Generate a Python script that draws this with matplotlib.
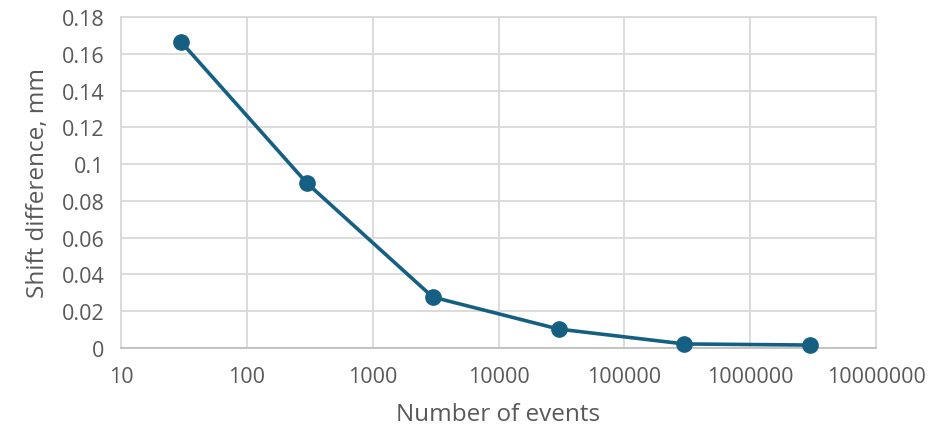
import matplotlib
matplotlib.use("Agg")
import matplotlib.pyplot as plt
from matplotlib.ticker import FixedLocator, FixedFormatter

# data
events = [30, 300, 3000, 30000, 300000, 3000000]
shift_mm = [0.1665, 0.0897, 0.0277, 0.0103, 0.0022, 0.0016]

x_ticks = [10, 100, 1000, 10000, 100000, 1000000, 10000000]
x_labels = ["10", "100", "1000", "10000", "100000", "1000000", "10000000"]
y_ticks = [0, 0.02, 0.04, 0.06, 0.08, 0.1, 0.12, 0.14, 0.16, 0.18]
y_labels = ["0", "0.02", "0.04", "0.06", "0.08", "0.1", "0.12", "0.14", "0.16", "0.18"]

LINE = "#156082"
GRID = "#d9d9d9"
TEXT = "#595959"

plt.rcParams["font.family"] = ["Open Sans", "DejaVu Sans"]

fig = plt.figure(figsize=(9.4, 4.31), dpi=100)
ax = fig.add_axes([121 / 940, 1 - 349 / 431, (876 - 121) / 940, (349 - 18) / 431])

ax.plot(events, shift_mm, color=LINE, lw=2.6, marker="o", ms=11,
        markerfacecolor=LINE, markeredgecolor=LINE, zorder=3, clip_on=False)

ax.set_xscale("log")
ax.set_xlim(10, 1e7)
ax.set_ylim(0, 0.18)
ax.xaxis.set_major_locator(FixedLocator(x_ticks))
ax.xaxis.set_major_formatter(FixedFormatter(x_labels))
ax.xaxis.set_minor_locator(FixedLocator([]))
ax.yaxis.set_major_locator(FixedLocator(y_ticks))
ax.yaxis.set_major_formatter(FixedFormatter(y_labels))

ax.grid(True, color=GRID, lw=1.3)
ax.set_axisbelow(True)
for side in ("top", "right", "left"):
    ax.spines[side].set_color(GRID)
    ax.spines[side].set_linewidth(1.3)
ax.spines["bottom"].set_color("#bfbfbf")
ax.spines["bottom"].set_linewidth(1.3)

ax.tick_params(axis="both", length=0, labelsize=15.5, colors=TEXT)
ax.tick_params(axis="x", pad=13)
ax.tick_params(axis="y", pad=12)

ax.set_xlabel("Number of events", fontsize=17.5, color=TEXT, labelpad=11)
ax.set_ylabel("Shift difference, mm", fontsize=17.5, color=TEXT, labelpad=8)

fig.savefig("out.png", dpi=100, facecolor="white")
